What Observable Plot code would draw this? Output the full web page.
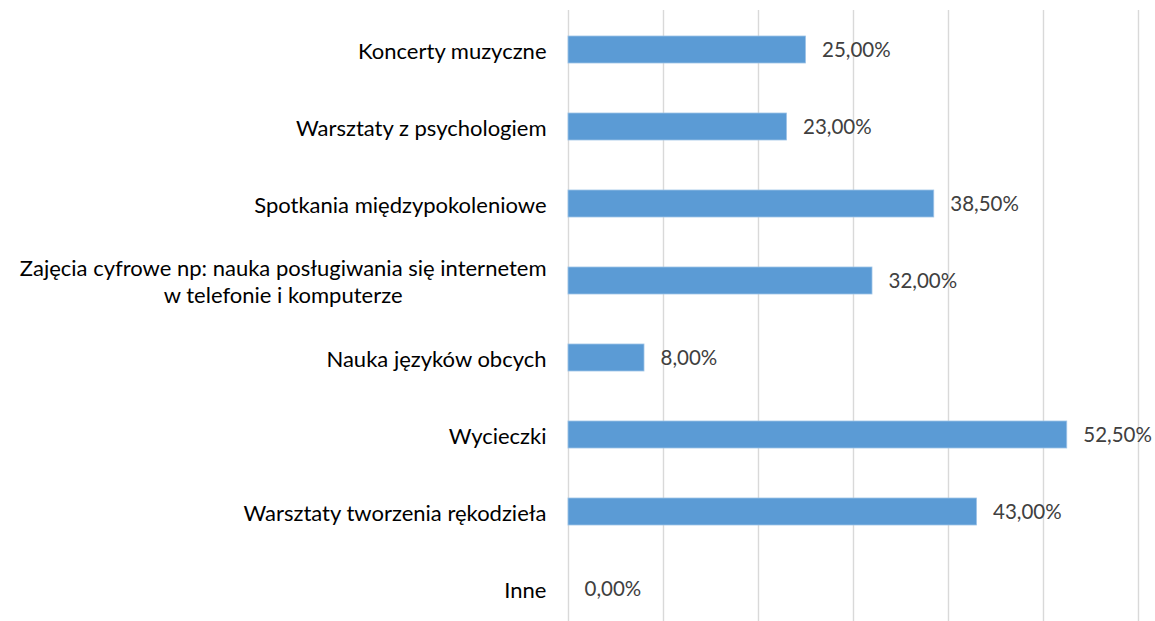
<!DOCTYPE html>
<html>
<head>
<meta charset="utf-8">
<script src="https://cdn.jsdelivr.net/npm/d3@7"></script>
<script src="https://cdn.jsdelivr.net/npm/@observablehq/plot@0.6"></script>
<style>
  html, body { margin: 0; padding: 0; background: #fff; }
  #chart svg { display: block; }
</style>
</head>
<body>
<div id="chart"></div>
<script>
const categories = [
  "Koncerty muzyczne",
  "Warsztaty z psychologiem",
  "Spotkania międzypokoleniowe",
  "Zajęcia cyfrowe np: nauka posługiwania się internetem\nw telefonie i komputerze",
  "Nauka języków obcych",
  "Wycieczki",
  "Warsztaty tworzenia rękodzieła",
  "Inne"
];
const values = [25, 23, 38.5, 32, 8, 52.5, 43, 0];
const xTicks = [0, 10, 20, 30, 40, 50, 60];

const data = categories.map((c, i) => ({category: c, value: values[i]}));
const fmt = v => v.toFixed(2).replace(".", ",") + "%";
const FONT = "Lato, 'Open Sans', sans-serif";

const chart = Plot.plot({
  width: 1155,
  height: 621,
  marginTop: 10,
  marginBottom: 0,
  marginLeft: 568,
  marginRight: 17,
  style: {fontFamily: FONT, background: "#fff"},
  x: {domain: [0, 60], axis: null},
  y: {domain: categories, range: [11, 627], paddingInner: 0.65, paddingOuter: 0.325, axis: null},
  marks: [
    Plot.gridX(xTicks, {stroke: "#d9d9d9", strokeOpacity: 1, strokeWidth: 1.4}),
    Plot.barX(data, {x: "value", y: "category", fill: "#5b9bd5", stroke: "#9dc3e6", strokeWidth: 0.8}),
    Plot.text(data, {x: "value", y: "category", text: d => fmt(d.value), textAnchor: "start", dx: 16, fill: "#404040", fontSize: 20.5}),
    Plot.axisY({label: null, tickSize: 0, tickPadding: 22, fontSize: 22, fill: "#000", lineHeight: 1.23, textOverflow: null, lineWidth: Infinity})
  ]
});
document.getElementById("chart").appendChild(chart);

// center the lines of multi-line category labels (right edge stays at the axis padding)
chart.querySelectorAll("[aria-label='y-axis tick label'] text").forEach(t => {
  const spans = t.querySelectorAll("tspan");
  if (spans.length > 1) {
    const w = t.getBBox().width;
    t.setAttribute("text-anchor", "middle");
    spans.forEach(s => s.setAttribute("x", -w / 2));
  }
});
</script>
</body>
</html>
